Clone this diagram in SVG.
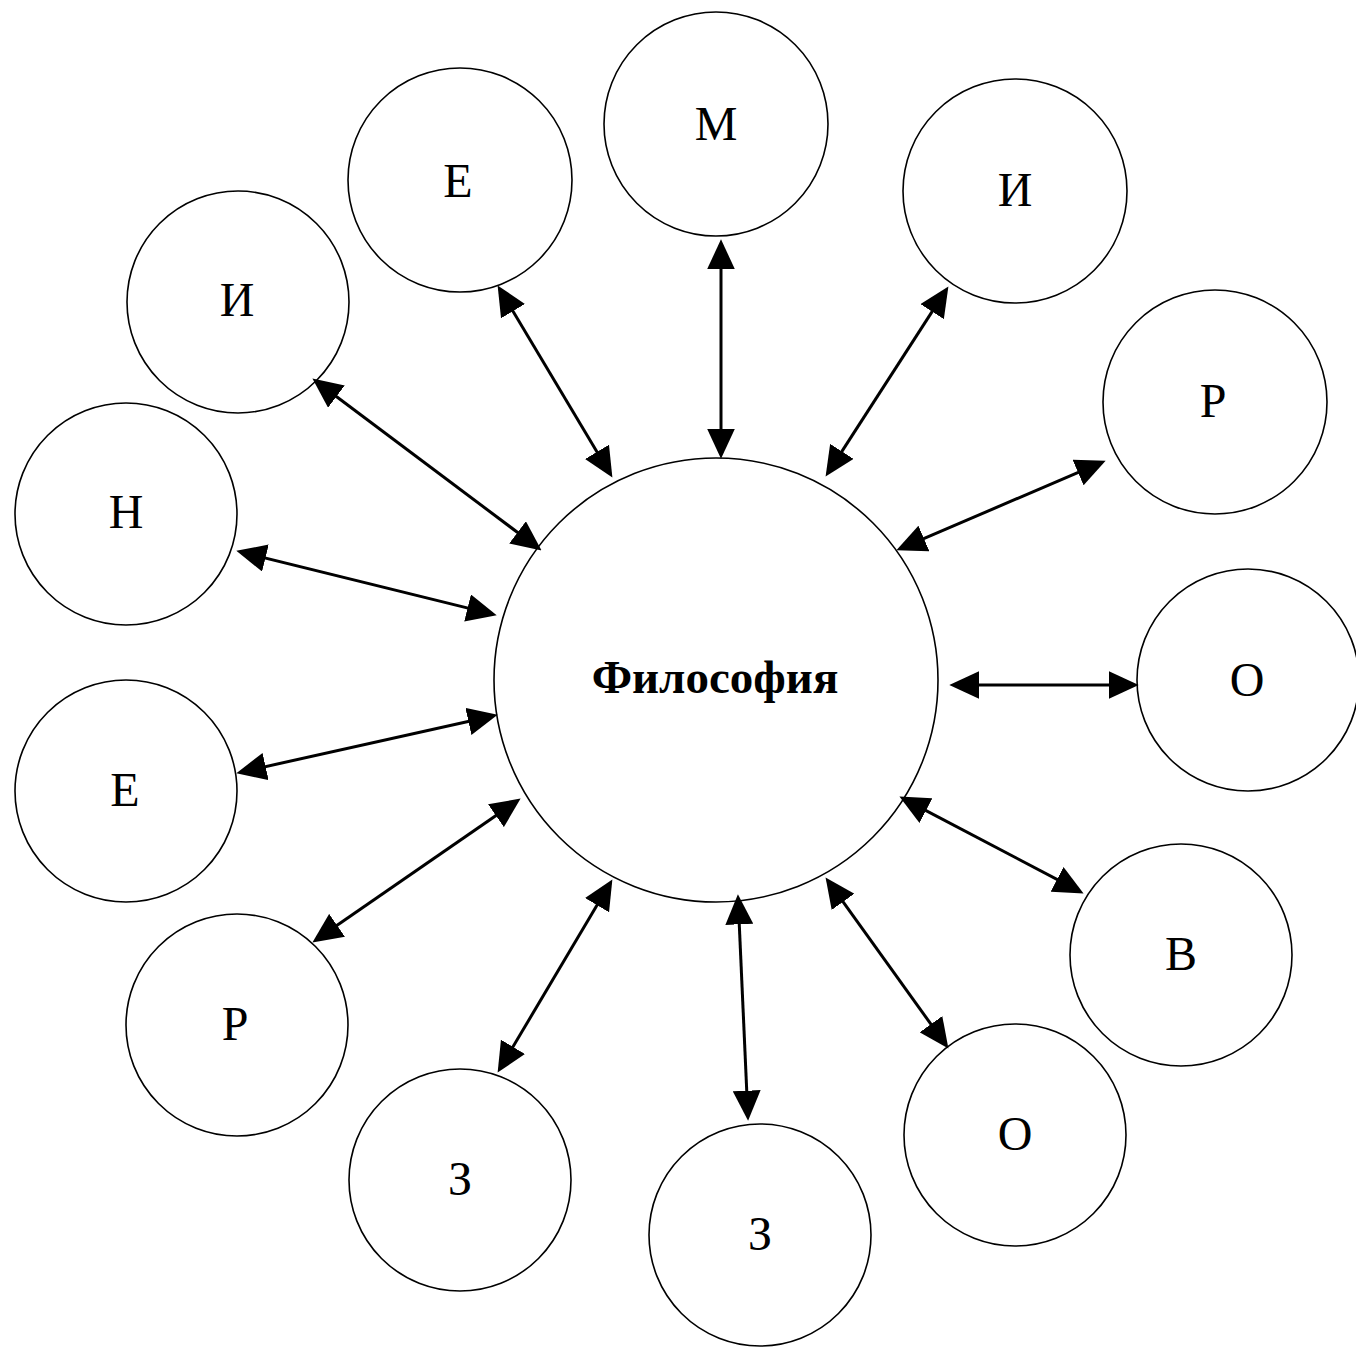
<svg xmlns="http://www.w3.org/2000/svg" width="1356" height="1347" viewBox="0 0 1356 1347">
<style>
.node circle{fill:#fff;stroke:#000;stroke-width:1.6}
.lbl{font-family:"Liberation Serif","Times New Roman",serif;font-size:48px;fill:#000;text-anchor:middle}
.main{font-family:"Liberation Serif","Times New Roman",serif;font-size:47px;font-weight:bold;fill:#000;text-anchor:middle}
.conn line{stroke:#000;stroke-width:3;marker-start:url(#ah);marker-end:url(#ah)}
</style>
<defs>
<marker id="ah" markerUnits="userSpaceOnUse" markerWidth="30" markerHeight="28" viewBox="0 0 28 26" refX="18" refY="13" orient="auto-start-reverse">
<path d="M0,0 L28,13 L0,26 z" fill="#000"/>
</marker>
</defs>
<rect width="1356" height="1347" fill="#fff"/>
<g id="n-center" class="node"><circle cx="716" cy="680" r="222"/><text class="main" x="715" y="693">Философия</text></g>
<g id="n-m" class="node"><circle cx="716" cy="124" r="112"/><text class="lbl" x="716" y="140">М</text></g>
<g id="n-i1" class="node"><circle cx="1015" cy="191" r="112"/><text class="lbl" x="1015" y="206">И</text></g>
<g id="n-r1" class="node"><circle cx="1215" cy="402" r="112"/><text class="lbl" x="1213" y="417">Р</text></g>
<g id="n-o1" class="node"><circle cx="1248" cy="680" r="111"/><text class="lbl" x="1247" y="696">О</text></g>
<g id="n-v" class="node"><circle cx="1181" cy="955" r="111"/><text class="lbl" x="1181" y="970">В</text></g>
<g id="n-o2" class="node"><circle cx="1015" cy="1135" r="111"/><text class="lbl" x="1015" y="1150">О</text></g>
<g id="n-z1" class="node"><circle cx="760" cy="1235" r="111"/><text class="lbl" x="760" y="1250">З</text></g>
<g id="n-z2" class="node"><circle cx="460" cy="1180" r="111"/><text class="lbl" x="460" y="1195">З</text></g>
<g id="n-r2" class="node"><circle cx="237" cy="1025" r="111"/><text class="lbl" x="235" y="1040">Р</text></g>
<g id="n-e1" class="node"><circle cx="126" cy="791" r="111"/><text class="lbl" x="125" y="806">Е</text></g>
<g id="n-n" class="node"><circle cx="126" cy="514" r="111"/><text class="lbl" x="126" y="528">Н</text></g>
<g id="n-i2" class="node"><circle cx="238" cy="302" r="111"/><text class="lbl" x="237" y="316">И</text></g>
<g id="n-e2" class="node"><circle cx="460" cy="180" r="112"/><text class="lbl" x="458" y="197">Е</text></g>
<g id="connectors" class="conn">
<line x1="721" y1="250" x2="721" y2="448"/>
<line x1="942.6" y1="295.4" x2="831.4" y2="467.6"/>
<line x1="1095.8" y1="464.9" x2="906.2" y2="546.1"/>
<line x1="960" y1="685" x2="1128" y2="685"/>
<line x1="908.9" y1="801.6" x2="1074.1" y2="888.4"/>
<line x1="831.8" y1="886.1" x2="942.2" y2="1039.9"/>
<line x1="738.4" y1="905" x2="747.6" y2="1110"/>
<line x1="606.9" y1="888.6" x2="503.1" y2="1063.4"/>
<line x1="511.8" y1="804.7" x2="321.2" y2="936.3"/>
<line x1="487.2" y1="717.2" x2="246.8" y2="770.8"/>
<line x1="246.7" y1="553.4" x2="486.3" y2="612.6"/>
<line x1="321" y1="385" x2="533" y2="544"/>
<line x1="503.1" y1="294.6" x2="606.9" y2="468.4"/>
</g>
</svg>
